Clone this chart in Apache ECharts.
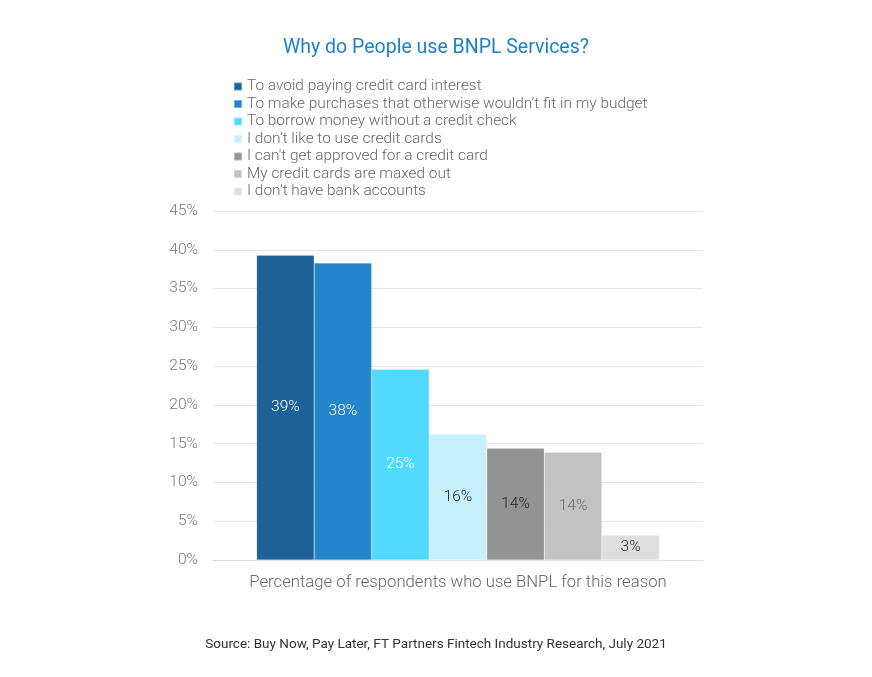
<!DOCTYPE html>
<html>
<head>
<meta charset="utf-8">
<script src="https://cdn.jsdelivr.net/npm/echarts@6/dist/echarts.min.js"></script>
<style>
html,body{margin:0;padding:0;background:#fff;}
#chart{width:872px;height:677px;}
</style>
</head>
<body>
<div id="chart"></div>
<script>
const categories = ['Percentage of respondents who use BNPL for this reason'];
const seriesNames = [
  'To avoid paying credit card interest',
  'To make purchases that otherwise wouldn\u2019t fit in my budget',
  'To borrow money without a credit check',
  'I don\u2019t like to use credit cards',
  "I can't get approved for a credit card",
  'My credit cards are maxed out',
  'I don\u2019t have bank accounts'
];
const seriesValues = [39.3, 38.3, 24.6, 16.2, 14.4, 13.9, 3.2];
const seriesLabels = ['39%', '38%', '25%', '16%', '14%', '14%', '3%'];
const colors = ['#1c6299', '#2385cc', '#52d9ff', '#c5f0fc', '#939393', '#c2c2c2', '#dedede'];
const labelColors = ['#ffffff', '#ffffff', '#ffffff', '#222222', '#222222', '#6e6e6e', '#222222'];
const yTicks = [0, 5, 10, 15, 20, 25, 30, 35, 40, 45];

const chart = echarts.init(document.getElementById('chart'));
const FONT = 'Roboto, "Noto Sans", sans-serif';

chart.setOption({
  animation: false,
  textStyle: { fontFamily: FONT },
  title: [
    {
      text: 'Why do People use BNPL Services?',
      left: 'center',
      top: 33,
      textStyle: { color: '#1d7fcf', fontSize: 19.5, fontWeight: 'normal', fontFamily: FONT }
    },
    {
      text: 'Source: Buy Now, Pay Later, FT Partners Fintech Industry Research, July 2021',
      left: 'center',
      top: 633,
      textStyle: { color: '#333333', fontSize: 13.5, fontWeight: 'normal', fontFamily: FONT }
    }
  ],
  legend: {
    orient: 'vertical',
    left: 228,
    top: 73.5,
    icon: 'rect',
    itemWidth: 8,
    itemHeight: 8,
    itemGap: 1.5,
    itemTextGap: 4,
    textStyle: { color: '#666666', fontSize: 15.4, fontWeight: 300, lineHeight: 16, fontFamily: FONT },
    data: seriesNames
  },
  grid: { left: 213, right: 169, top: 211, bottom: 117, containLabel: false },
  xAxis: {
    type: 'category',
    data: categories,
    axisLine: { show: true, lineStyle: { color: '#dcdcdc' } },
    axisTick: { show: false },
    axisLabel: { color: '#666666', fontSize: 16.7, fontWeight: 300, margin: 14, fontFamily: FONT }
  },
  yAxis: {
    type: 'value',
    min: yTicks[0],
    max: yTicks[yTicks.length - 1],
    interval: 5,
    axisLine: { show: false },
    axisTick: { show: false },
    splitLine: { lineStyle: { color: '#e6e6e6', width: 1 } },
    axisLabel: { color: '#777777', fontSize: 15.5, fontWeight: 300, margin: 15, formatter: v => v + '%', fontFamily: FONT }
  },
  series: seriesNames.map((name, i) => ({
    name: name,
    type: 'bar',
    data: [seriesValues[i]],
    barGap: '0%',
    barCategoryGap: '17.8%',
    itemStyle: { color: colors[i], borderColor: 'rgba(255,255,255,0.35)', borderWidth: 0.5 },
    label: {
      show: true,
      position: 'inside',
      formatter: seriesLabels[i],
      color: labelColors[i],
      fontSize: 15.5,
      fontWeight: 300,
      fontFamily: FONT
    }
  }))
});
</script>
</body>
</html>
